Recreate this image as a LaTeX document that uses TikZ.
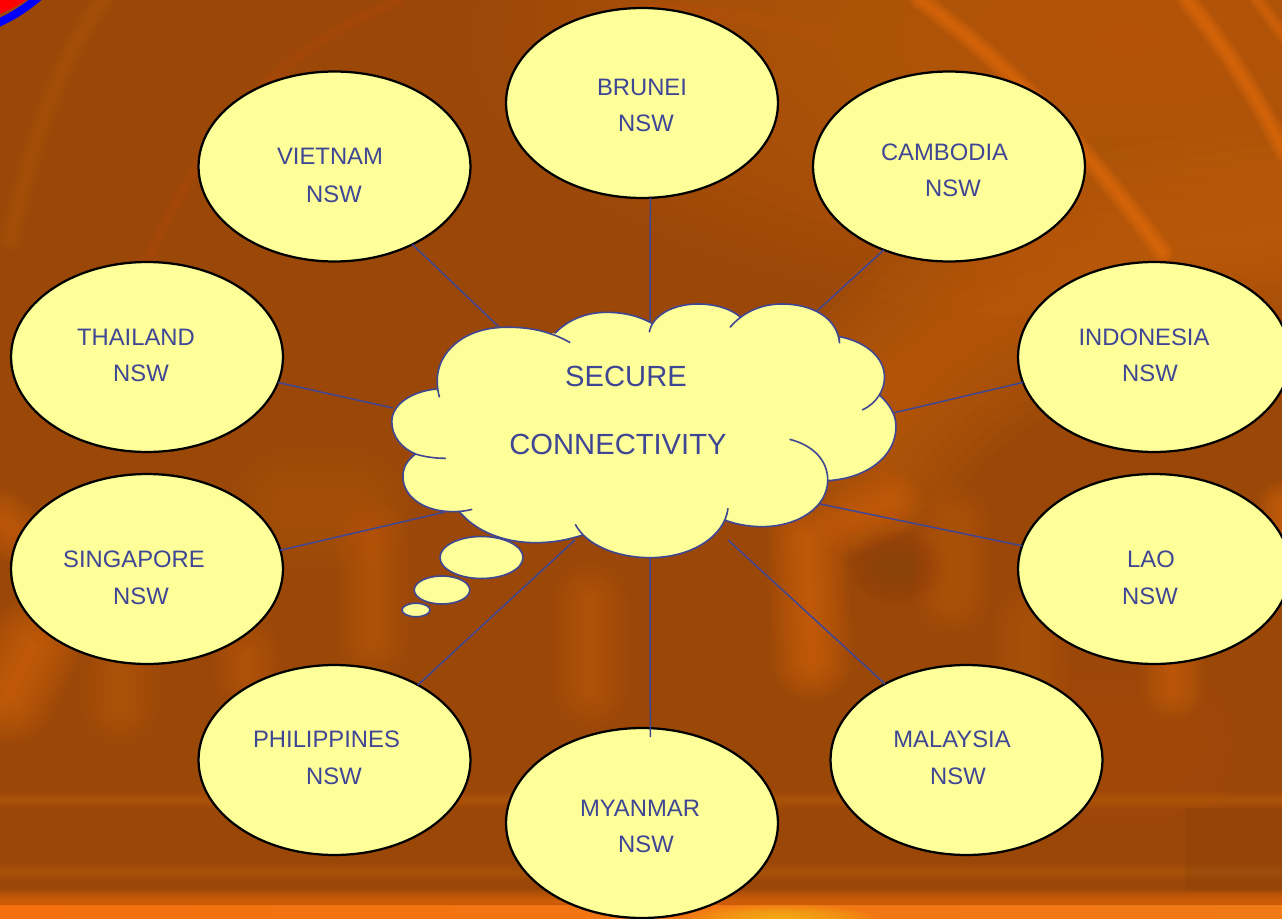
\documentclass[tikz,border=0pt]{standalone}
\usepackage{fontspec}
\setmainfont{Liberation Sans}
\usetikzlibrary{shapes.geometric}
\definecolor{inkblue}{HTML}{3F4794}
\definecolor{paleyellow}{HTML}{FFFF99}
\definecolor{basebrown}{HTML}{9A4708}
\definecolor{glow}{HTML}{E8700F}
\definecolor{midglow}{HTML}{CC660F}
\definecolor{darkbrown}{HTML}{8A4208}
\definecolor{bandleft}{HTML}{F4700F}
\definecolor{bandmid}{HTML}{FF9A1C}
\definecolor{bandright}{HTML}{F07A16}
\definecolor{bandhot}{HTML}{FFD020}
\newcommand{\softblob}[6]{\foreach \k in {1,...,20}{\fill[#5,opacity={#6/2}] (#1,#2) ellipse [x radius={#3*\k/20},y radius={#4*\k/20}];}}
\newcommand{\softstroke}[4]{\foreach \k in {1,...,10}{\draw[#1,opacity=#3,line cap=round,line join=round,line width={#2*\k/10}] #4;}}
\newcommand{\cloudarcs}{
 (176,322) .. controls (158,255) and (175,190) .. (245,145) .. controls (290,118) and (340,110) .. (395,112) .. controls (460,114) and (515,130) .. (563,158)
 (518,130) .. controls (555,90) and (610,67) .. (670,67) .. controls (725,67) and (770,80) .. (805,100)
 (797,127) .. controls (805,75) and (870,42) .. (940,42) .. controls (995,42) and (1040,58) .. (1065,80)
 (1036,112) .. controls (1075,65) and (1130,42) .. (1190,42) .. controls (1280,42) and (1355,85) .. (1360,160)
 (1360,140) .. controls (1435,155) and (1493,200) .. (1493,262) .. controls (1493,300) and (1470,340) .. (1427,360)
 (1478,315) .. controls (1510,345) and (1527,375) .. (1527,410) .. controls (1527,500) and (1440,565) .. (1325,572)
 (1212,448) .. controls (1280,465) and (1325,510) .. (1325,570) .. controls (1325,650) and (1240,710) .. (1130,710) .. controls (1090,710) and (1050,702) .. (1020,690)
 (1030,655) .. controls (1020,740) and (920,803) .. (800,803) .. controls (700,803) and (610,765) .. (578,703)
 (600,735) .. controls (555,750) and (510,758) .. (460,758) .. controls (360,758) and (280,720) .. (235,665)
 (273,658) .. controls (255,663) and (235,665) .. (215,665) .. controls (130,665) and (68,620) .. (68,560) .. controls (68,530) and (82,510) .. (105,492)
 (195,505) .. controls (160,505) and (130,500) .. (105,492) .. controls (65,475) and (35,440) .. (35,395) .. controls (35,345) and (90,305) .. (167,297)
}
\tikzset{
 country/.style={ellipse,draw=black,line width=0.045cm,fill=paleyellow,minimum width=5.44cm,minimum height=3.8cm,inner sep=0pt,outer sep=0pt},
 lbl/.style={anchor=base,inner sep=0pt,outer sep=0pt,text=inkblue,font=\fontsize{13.55}{16}\selectfont},
 biglbl/.style={anchor=base,inner sep=0pt,outer sep=0pt,text=inkblue,font=\fontsize{16.6}{20}\selectfont},
 spoke/.style={draw=inkblue,line width=0.03cm},
 bubble/.style={ellipse,draw=inkblue,line width=0.032cm,fill=paleyellow,inner sep=0pt,outer sep=0pt},
}
\begin{document}
\begin{tikzpicture}[x=0.02cm,y=-0.02cm]
\useasboundingbox (0,0) rectangle (1282,919);
\begin{scope}
\clip (0,0) rectangle (1282,919);
% background
\fill[basebrown] (0,0) rectangle (1282,919);
\softblob{1130}{40}{660}{280}{midglow}{0.10}
\softstroke{midglow}{130}{0.08}{(870,420) .. controls (960,300) and (1100,260) .. (1290,235)}
\softstroke{glow}{12}{0.10}{(920,0) .. controls (993,53) and (1070,125) .. (1163,253)}
\softstroke{glow}{12}{0.10}{(1187,0) .. controls (1223,43) and (1263,107) .. (1284,152)}
\softstroke{glow}{9}{0.08}{(1257,0) -- (1284,36)}
\softstroke{midglow}{14}{0.04}{(103,0) .. controls (67,50) and (40,110) .. (10,240)}
\softstroke{midglow}{10}{0.03}{(400,0) .. controls (280,50) and (180,130) .. (100,390)}
\softstroke{midglow}{10}{0.03}{(640,10) .. controls (760,10) and (860,40) .. (920,80)}
% blurred vertical strokes
\softstroke{glow}{44}{0.035}{(373,540) -- (373,640)}
\softstroke{glow}{40}{0.04}{(247,655) -- (247,675)}
\softstroke{glow}{46}{0.03}{(120,672) -- (120,705)}
\softstroke{midglow}{70}{0.04}{(290,507) -- (350,507)}
\softstroke{glow}{56}{0.07}{(33,647) -- (8,695)}
\softstroke{glow}{36}{0.06}{(0,520) -- (12,530)}
\softstroke{glow}{44}{0.04}{(590,600) -- (590,690)}
\softstroke{glow}{46}{0.07}{(807,540) -- (812,660)}
\softstroke{glow}{40}{0.06}{(850,520) -- (890,503)}
\softstroke{midglow}{46}{0.05}{(953,525) -- (953,595)}
\softstroke{midglow}{44}{0.045}{(1030,625) -- (1030,685)}
\softstroke{glow}{36}{0.06}{(1173,665) -- (1173,690)}
\softstroke{glow}{28}{0.07}{(1282,505) -- (1282,535)}
\softblob{897}{567}{50}{38}{darkbrown}{0.045}
\softblob{1060}{640}{330}{170}{midglow}{0.025}
\softstroke{midglow}{100}{0.025}{(1020,745) -- (1160,745)}
% horizontal bands
\softstroke{midglow}{10}{0.05}{(-5,800) -- (1290,800)}
\softstroke{midglow}{10}{0.045}{(-5,872) -- (1290,872)}
\fill[darkbrown,opacity=0.3] (1185,808) rectangle (1282,892);
\softstroke{bandleft}{14}{0.09}{(-5,902) -- (1290,902)}
\shade[left color=bandleft,middle color=bandmid,right color=bandright] (0,905) rectangle (1282,919);
\begin{scope}
\clip (0,900) rectangle (1282,919);
\softblob{780}{919}{95}{15}{bandhot}{0.10}
\end{scope}
% corner ring
\fill[red] (0,0) -- (26,0) .. controls (18,6) and (9,10) .. (0,14) -- cycle;
\draw[blue,line width=0.16cm] (40,-4) .. controls (27,7) and (14,16) .. (-4,24);
\end{scope}
% country ellipses
\node[country] (nBrunei) at (642,103) {};
\node[country] (nVietnam) at (334.5,166.5) {};
\node[country] (nCambodia) at (949,166.5) {};
\node[country] (nThailand) at (147,357) {};
\node[country] (nIndonesia) at (1154,357) {};
\node[country] (nSingapore) at (147,569) {};
\node[country] (nLao) at (1154,569) {};
\node[country] (nPhilippines) at (334.5,760) {};
\node[country] (nMalaysia) at (966.5,760) {};
\node[country] (nMyanmar) at (642,823) {};
% free connector ends at the cloud
\coordinate (cBrunei) at (650,322);
\coordinate (cVietnam) at (500,328);
\coordinate (cCambodia) at (817,311);
\coordinate (cThailand) at (393,408);
\coordinate (cIndonesia) at (893,413);
\coordinate (cSingapore) at (445,512);
\coordinate (cLao) at (820,504);
\coordinate (cPhilippines) at (575,540);
\coordinate (cMalaysia) at (728,540);
\coordinate (cMyanmar) at (650,555);
% connectors
\draw[spoke] (nBrunei.-85) -- (cBrunei);
\draw[spoke] (nVietnam.-45.3) -- (cVietnam);
\draw[spoke] (nCambodia.-128.7) -- (cCambodia);
\draw[spoke] (nThailand.-11.9) -- (cThailand);
\draw[spoke] (nIndonesia.191.6) -- (cIndonesia);
\draw[spoke] (nSingapore.8.8) -- (cSingapore);
\draw[spoke] (nLao.170.7) -- (cLao);
\draw[spoke] (nPhilippines.42.3) -- (cPhilippines);
\draw[spoke] (nMalaysia.137.3) -- (cMalaysia);
\draw[spoke] ([yshift=-0.18cm]nMyanmar.85) -- (cMyanmar);
% cloud (coordinates in the scale of the crop)
\begin{scope}[shift={(380,290)},x=0.00676cm,y=-0.00666667cm]
\fill[paleyellow] (170,297) -- (245,145) -- (518,130) -- (661,90) -- (805,100) -- (1000,70) -- (1063,80) -- (1075,85) -- (1355,140) -- (1478,315) -- (1440,460) -- (1325,572) -- (1020,690) -- (600,735) -- (417,735) -- (235,665) -- (105,492) -- cycle;
\fill[paleyellow] \cloudarcs;
\draw[inkblue,line width=0.032cm] \cloudarcs;
\end{scope}
\node[bubble,minimum width=1.66cm,minimum height=0.84cm] (bubbleA) at (481.5,557.5) {};
\node[bubble,minimum width=1.11cm,minimum height=0.56cm] (bubbleB) at (442,590) {};
\node[bubble,minimum width=0.56cm,minimum height=0.27cm] (bubbleC) at (416,610) {};
% labels
\node[biglbl] (tSecure) at (626,386) {SECURE};
\node[biglbl] (tConnect) at (618,454) {CONNECTIVITY};
\node[lbl] (tBrunei) at (642,96) {BRUNEI};
\node[lbl] (sBrunei) at (646,132) {NSW};
\node[lbl] (tVietnam) at (330,165) {VIETNAM};
\node[lbl] (sVietnam) at (334,202) {NSW};
\node[lbl] (tCambodia) at (944.5,160) {CAMBODIA};
\node[lbl] (sCambodia) at (953,196) {NSW};
\node[lbl] (tThailand) at (136,345) {THAILAND};
\node[lbl] (sThailand) at (141,381) {NSW};
\node[lbl] (tIndonesia) at (1144,345) {INDONESIA};
\node[lbl] (sIndonesia) at (1150,381) {NSW};
\node[lbl] (tSingapore) at (134,567) {SINGAPORE};
\node[lbl] (sSingapore) at (141,604) {NSW};
\node[lbl] (tLao) at (1151,567) {LAO};
\node[lbl] (sLao) at (1150,604) {NSW};
\node[lbl] (tPhilippines) at (326.5,747) {PHILIPPINES};
\node[lbl] (sPhilippines) at (334,784) {NSW};
\node[lbl] (tMalaysia) at (952,747) {MALAYSIA};
\node[lbl] (sMalaysia) at (958,784) {NSW};
\node[lbl] (tMyanmar) at (640,816) {MYANMAR};
\node[lbl] (sMyanmar) at (646,852) {NSW};
\end{tikzpicture}
\end{document}
